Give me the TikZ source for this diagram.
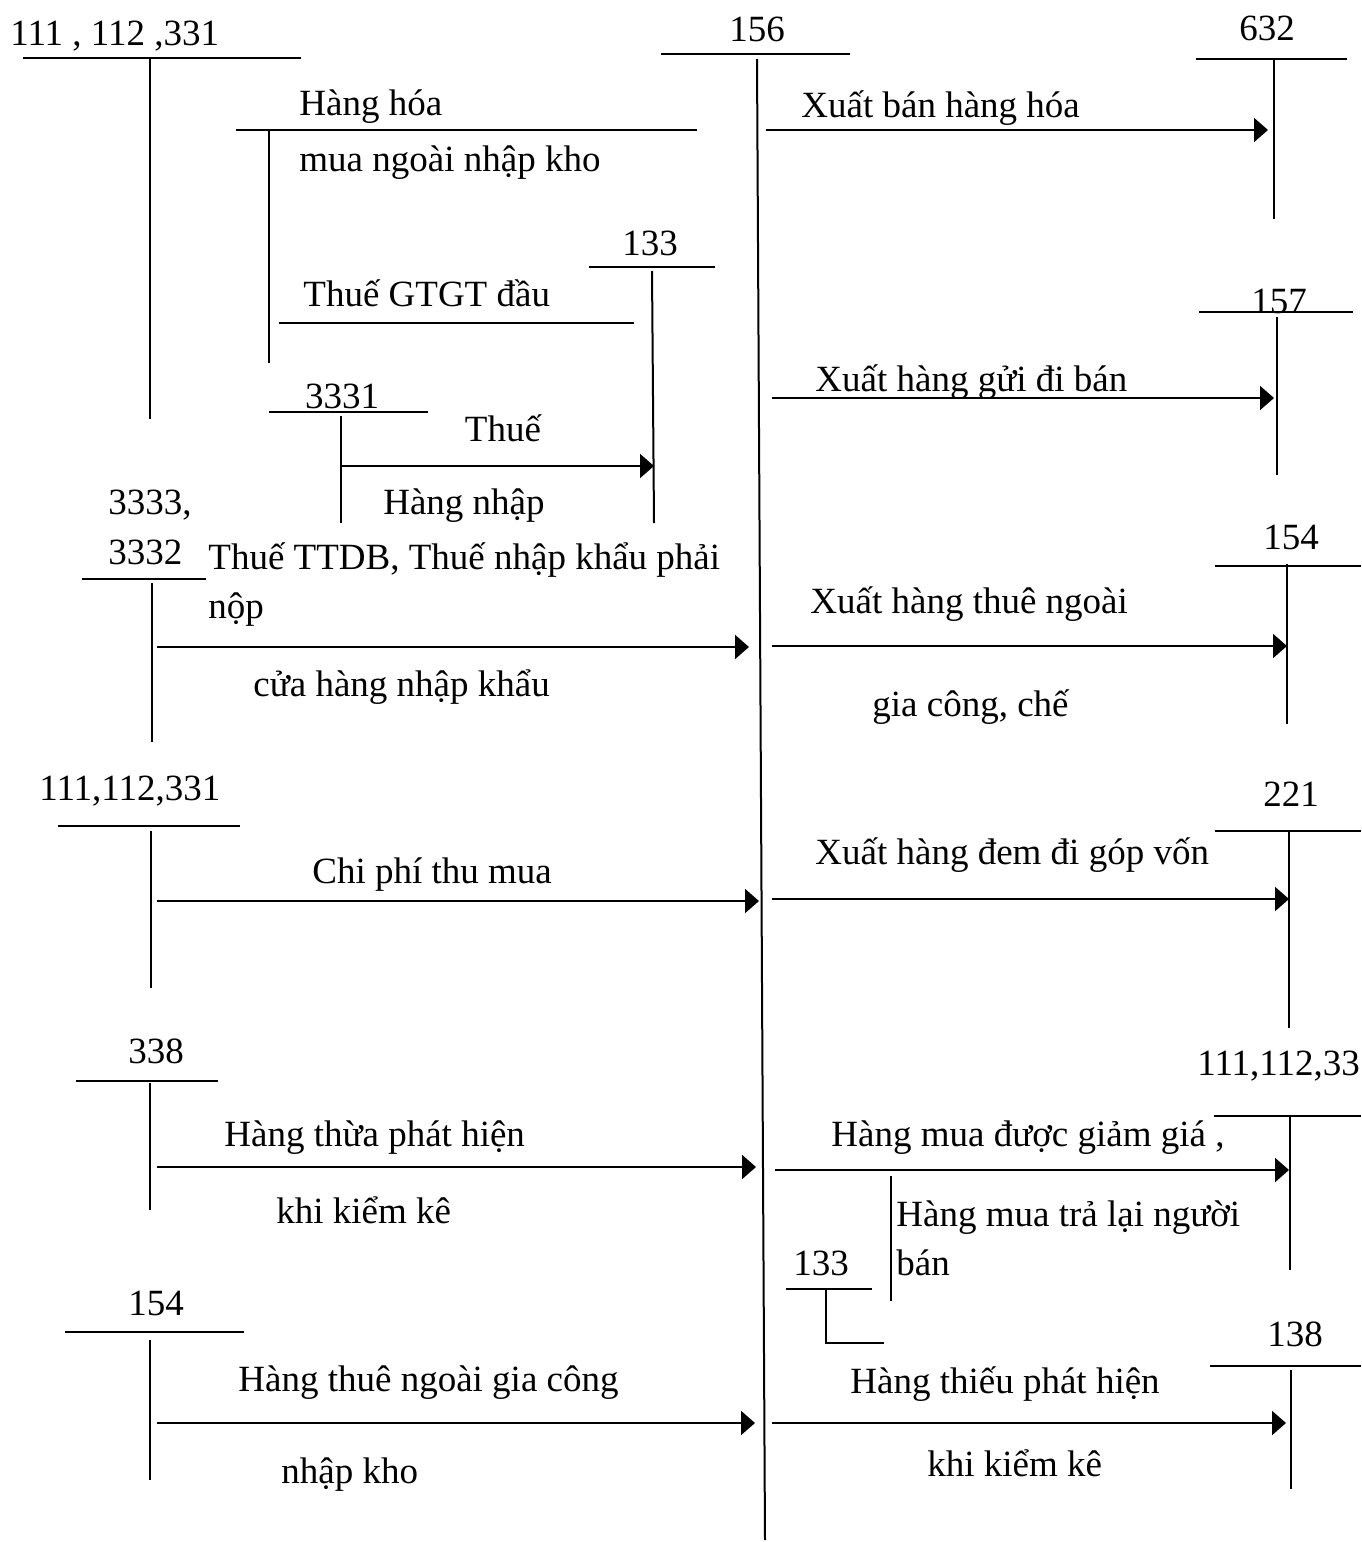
\documentclass[tikz,border=0pt]{standalone}
\usepackage{fontspec}
\setmainfont{Liberation Serif}
\usetikzlibrary{arrows.meta}
\begin{document}
\begin{tikzpicture}[x=0.5pt,y=-0.5pt,
  lbl/.style={inner sep=0pt,font=\fontsize{18.5}{22}\selectfont},
  lw/.style={lbl,anchor=base west},
  lc/.style={lbl,anchor=base},
  acc/.style={line width=1pt},
  arr/.style={line width=1pt,-{Triangle[length=7pt,width=12pt]}}]
\useasboundingbox (0,0) rectangle (1361,1542);
\fill[white] (0,0) rectangle (1361,1542);

% ---------- labels ----------
\node[lw] (n111a) at (10,45) {111 , 112 ,331};
\node[lc] (n156) at (757,41) {156};
\node[lc] (n632) at (1267,40) {632};
\node[lw] (tHH1) at (299,115) {Hàng hóa};
\node[lw] (tHH2) at (299,171) {mua ngoài nhập kho};
\node[lw] (tXB) at (801,117) {Xuất bán hàng hóa};
\node[lc] (n133a) at (650,255) {133};
\node[lw] (tGT) at (303,306) {Thuế GTGT đầu};
\node[lc] (n157) at (1279,313) {157};
\node[lw] (tXG) at (815,391) {Xuất hàng gửi đi bán};
\node[lc] (n3331) at (342,408) {3331};
\node[lc] (tThue) at (503,441) {Thuế};
\node[lc] (tHN) at (464,514) {Hàng nhập};
\node[lw] (n3333) at (108,514) {3333,};
\node[lw] (n3332) at (108,564) {3332};
\node[lw] (tTT1) at (208,569) {Thuế TTDB, Thuế nhập khẩu phải};
\node[lw] (tTT2) at (208,618) {nộp};
\node[lw] (tCH) at (253,696) {cửa hàng nhập khẩu};
\node[lc] (n154r) at (1291,549) {154};
\node[lw] (tXT1) at (810,613) {Xuất hàng thuê ngoài};
\node[lw] (tXT2) at (872,716) {gia công, chế};
\node[lw] (n111b) at (39,800) {111,112,331};
\node[lw] (tCP) at (312,883) {Chi phí thu mua};
\node[lc] (n221) at (1291,806) {221};
\node[lw] (tXD) at (815,864) {Xuất hàng đem đi góp vốn};
\node[lc] (n338) at (156,1063) {338};
\node[lw] (n111c) at (1197,1075) {111,112,33};
\node[lw] (tHT1) at (224,1146) {Hàng thừa phát hiện};
\node[lw] (tHT2) at (276,1223) {khi kiểm kê};
\node[lw] (tGG) at (831,1146) {Hàng mua được giảm giá ,};
\node[lw] (tTL1) at (896,1226) {Hàng mua trả lại người};
\node[lw] (tTL2) at (896,1275) {bán};
\node[lc] (n133b) at (821,1275) {133};
\node[lc] (n154l) at (156,1315) {154};
\node[lc] (n138) at (1295,1346) {138};
\node[lw] (tGC1) at (238,1391) {Hàng thuê ngoài gia công};
\node[lw] (tGC2) at (281,1483) {nhập kho};
\node[lw] (tTH1) at (850,1393) {Hàng thiếu phát hiện};
\node[lw] (tTH2) at (927,1476) {khi kiểm kê};

% ---------- coordinates ----------
% central 156
\coordinate (c156hl) at (661,54);  \coordinate (c156hr) at (850,54);
\coordinate (c156t) at (757,59);   \coordinate (c156b) at (765,1540);
% 111,112,331 top-left
\coordinate (cAhl) at (23,58);  \coordinate (cAhr) at (301,58);
\coordinate (cAt) at (150,58);  \coordinate (cAb) at (150,419);
% inner Hang hoa
\coordinate (cBhl) at (236,130); \coordinate (cBhr) at (697,130);
\coordinate (cBt) at (269,130);  \coordinate (cBb) at (269,363);
% 133 upper
\coordinate (cChl) at (589,267); \coordinate (cChr) at (715,267);
\coordinate (cCt) at (652,271);  \coordinate (cCb) at (654,523);
% GTGT line
\coordinate (cDl) at (279,323);  \coordinate (cDr) at (634,323);
% 3331
\coordinate (cEhl) at (269,412); \coordinate (cEhr) at (428,412);
\coordinate (cEt) at (341,416);  \coordinate (cEb) at (341,523);
\coordinate (cEs) at (341,466);  \coordinate (cEe) at (654,466);
% 3333,3332
\coordinate (cFhl) at (82,579);  \coordinate (cFhr) at (206,579);
\coordinate (cFt) at (152,583);  \coordinate (cFb) at (152,742);
\coordinate (cFs) at (157,647);  \coordinate (cFe) at (749,647);
% 111 mid
\coordinate (cGhl) at (58,826);  \coordinate (cGhr) at (240,826);
\coordinate (cGt) at (151,831);  \coordinate (cGb) at (151,988);
\coordinate (cGs) at (157,901);  \coordinate (cGe) at (759,901);
% 338
\coordinate (cHhl) at (76,1081); \coordinate (cHhr) at (218,1081);
\coordinate (cHt) at (150,1083); \coordinate (cHb) at (150,1210);
\coordinate (cHs) at (157,1167); \coordinate (cHe) at (756,1167);
% 154 left
\coordinate (cIhl) at (65,1332); \coordinate (cIhr) at (244,1332);
\coordinate (cIt) at (150,1340); \coordinate (cIb) at (150,1480);
\coordinate (cIs) at (157,1423); \coordinate (cIe) at (755,1423);
% 632
\coordinate (cJhl) at (1196,59); \coordinate (cJhr) at (1347,59);
\coordinate (cJt) at (1274,59);  \coordinate (cJb) at (1274,219);
\coordinate (cJs) at (766,130);  \coordinate (cJe) at (1268,130);
% 157
\coordinate (cKhl) at (1199,312); \coordinate (cKhr) at (1353,312);
\coordinate (cKt) at (1277,317);  \coordinate (cKb) at (1277,475);
\coordinate (cKs) at (772,398);   \coordinate (cKe) at (1274,398);
% 154 right
\coordinate (cLhl) at (1215,566); \coordinate (cLhr) at (1361,566);
\coordinate (cLt) at (1287,564);  \coordinate (cLb) at (1287,724);
\coordinate (cLs) at (772,646);   \coordinate (cLe) at (1287,646);
% 221
\coordinate (cMhl) at (1215,831); \coordinate (cMhr) at (1361,831);
\coordinate (cMt) at (1289,831);  \coordinate (cMb) at (1289,1028);
\coordinate (cMs) at (772,899);   \coordinate (cMe) at (1289,899);
% 111,112,33 right
\coordinate (cNhl) at (1214,1116); \coordinate (cNhr) at (1361,1116);
\coordinate (cNt) at (1290,1116);  \coordinate (cNb) at (1290,1270);
\coordinate (cNs) at (775,1170);   \coordinate (cNe) at (1289,1170);
\coordinate (cOt) at (891,1176);   \coordinate (cOb) at (891,1301);
% 133 bottom
\coordinate (cPhl) at (786,1289); \coordinate (cPhr) at (872,1289);
\coordinate (cPt) at (826,1289);  \coordinate (cPb) at (826,1343);
\coordinate (cPe) at (884,1343);
% 138
\coordinate (cQhl) at (1210,1366); \coordinate (cQhr) at (1361,1366);
\coordinate (cQt) at (1291,1370);  \coordinate (cQb) at (1291,1489);
\coordinate (cQs) at (772,1423);   \coordinate (cQe) at (1286,1423);

% ---------- T-account lines ----------
\draw[acc] (c156hl) -- (c156hr);  \draw[acc] (c156t) -- (c156b);
\draw[acc] (cAhl) -- (cAhr);  \draw[acc] (cAt) -- (cAb);
\draw[acc] (cBhl) -- (cBhr);  \draw[acc] (cBt) -- (cBb);
\draw[acc] (cChl) -- (cChr);  \draw[acc] (cCt) -- (cCb);
\draw[acc] (cDl) -- (cDr);
\draw[acc] (cEhl) -- (cEhr);  \draw[acc] (cEt) -- (cEb);
\draw[acc] (cFhl) -- (cFhr);  \draw[acc] (cFt) -- (cFb);
\draw[acc] (cGhl) -- (cGhr);  \draw[acc] (cGt) -- (cGb);
\draw[acc] (cHhl) -- (cHhr);  \draw[acc] (cHt) -- (cHb);
\draw[acc] (cIhl) -- (cIhr);  \draw[acc] (cIt) -- (cIb);
\draw[acc] (cJhl) -- (cJhr);  \draw[acc] (cJt) -- (cJb);
\draw[acc] (cKhl) -- (cKhr);  \draw[acc] (cKt) -- (cKb);
\draw[acc] (cLhl) -- (cLhr);  \draw[acc] (cLt) -- (cLb);
\draw[acc] (cMhl) -- (cMhr);  \draw[acc] (cMt) -- (cMb);
\draw[acc] (cNhl) -- (cNhr);  \draw[acc] (cNt) -- (cNb);
\draw[acc] (cOt) -- (cOb);
\draw[acc] (cPhl) -- (cPhr);  \draw[acc] (cPt) -- (cPb) -- (cPe);
\draw[acc] (cQhl) -- (cQhr);  \draw[acc] (cQt) -- (cQb);

% ---------- arrows ----------
\draw[arr] (cEs) -- (cEe);
\draw[arr] (cFs) -- (cFe);
\draw[arr] (cGs) -- (cGe);
\draw[arr] (cHs) -- (cHe);
\draw[arr] (cIs) -- (cIe);
\draw[arr] (cJs) -- (cJe);
\draw[arr] (cKs) -- (cKe);
\draw[arr] (cLs) -- (cLe);
\draw[arr] (cMs) -- (cMe);
\draw[arr] (cNs) -- (cNe);
\draw[arr] (cQs) -- (cQe);
\end{tikzpicture}
\end{document}
